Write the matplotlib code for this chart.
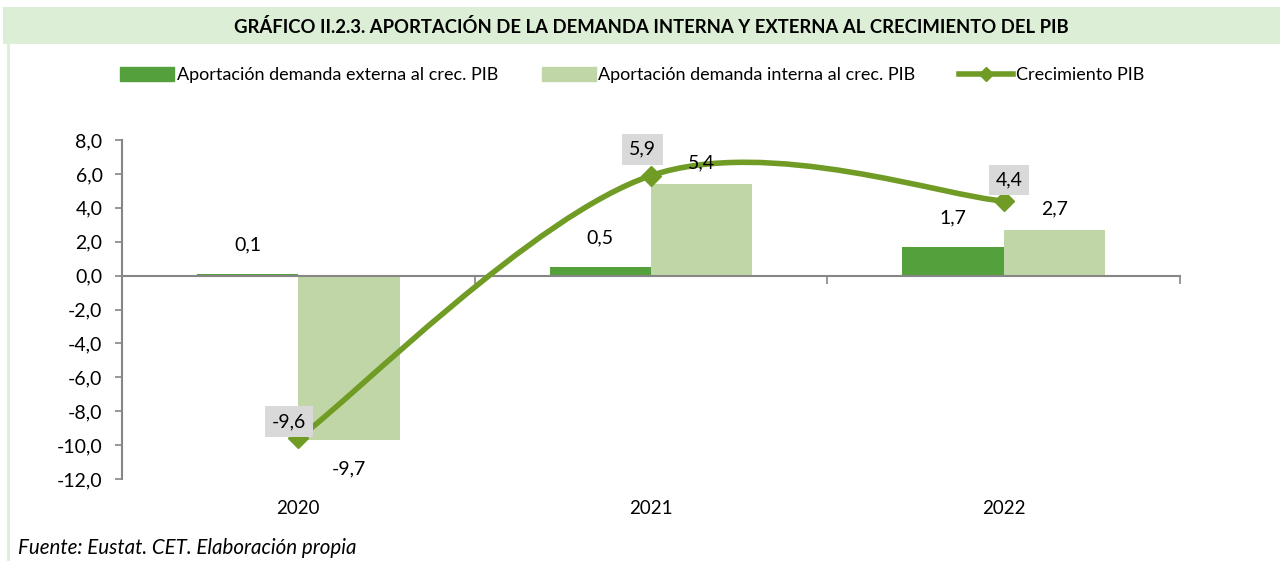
import matplotlib.pyplot as plt
from matplotlib.path import Path
from matplotlib.patches import PathPatch, Rectangle
from matplotlib.lines import Line2D
from matplotlib.ticker import FuncFormatter

years = ["2020", "2021", "2022"]
externa = [0.1, 0.5, 1.7]
interna = [-9.7, 5.4, 2.7]
pib = [-9.6, 5.9, 4.4]

DARK = "#54a03c"
LIGHT = "#c0d6a6"
LINE = "#709c26"
GRAY = "#868686"
BAND = "#dcefd6"

plt.rcParams["font.family"] = ["Lato", "DejaVu Sans"]

fig = plt.figure(figsize=(12.8, 5.61), dpi=100)
ax = fig.add_axes([122 / 1280, 1 - 479 / 561, (1180 - 122) / 1280, (479 - 140) / 561])

x = list(range(len(years)))
w = 0.287
ax.bar([i - w / 2 for i in x], externa, w, color=DARK, zorder=2)
ax.bar([i + w / 2 for i in x], interna, w, color=LIGHT, zorder=2)

# smoothed line (Excel style bezier through the points)
pts = list(zip(x, pib))
verts = [pts[0]]
codes = [Path.MOVETO]
for i in range(len(pts) - 1):
    p0 = pts[i - 1] if i > 0 else pts[i]
    p1, p2 = pts[i], pts[i + 1]
    p3 = pts[i + 2] if i + 2 < len(pts) else pts[i + 1]
    c1 = (p1[0] + (p2[0] - p0[0]) / 6, p1[1] + (p2[1] - p0[1]) / 6)
    c2 = (p2[0] - (p3[0] - p1[0]) / 6, p2[1] - (p3[1] - p1[1]) / 6)
    verts += [c1, c2, p2]
    codes += [Path.CURVE4] * 3
ax.add_patch(PathPatch(Path(verts, codes), fill=False, edgecolor=LINE, lw=4, zorder=3))
ax.plot(x, pib, ls="none", marker="D", ms=10, color=LINE, zorder=4)

# data labels
for i, v in enumerate(externa):
    ax.annotate(f"{v:.1f}".replace(".", ","), (i - w / 2, v), xytext=(0, 15),
                textcoords="offset points", ha="center", va="bottom", fontsize=14)
for i, v in enumerate(interna):
    off = (0, 9) if v > 0 else (0, -15)
    ax.annotate(f"{v:.1f}".replace(".", ","), (i + w / 2, v), xytext=off,
                textcoords="offset points", ha="center",
                va="bottom" if v > 0 else "top", fontsize=14)
pib_off = [(-7, 12), (-6, 19), (4, 15)]
for i, v in enumerate(pib):
    ax.annotate(f"{v:.1f}".replace(".", ","), (i, v), xytext=pib_off[i],
                textcoords="offset points", ha="center", va="center", fontsize=14,
                bbox=dict(boxstyle="square,pad=0.35", fc="#d9d9d9", ec="none"), zorder=5)

ax.set_xlim(-0.5, 2.5)
ax.set_ylim(-12, 8)
ax.set_yticks(range(-12, 9, 2))
ax.yaxis.set_major_formatter(FuncFormatter(lambda v, p: f"{v:.1f}".replace(".", ",")))
ax.tick_params(axis="y", labelsize=14, length=5, color=GRAY, width=1.2, pad=9)

for s in ["top", "right"]:
    ax.spines[s].set_visible(False)
ax.spines["left"].set_color(GRAY)
ax.spines["left"].set_linewidth(1.5)
ax.spines["bottom"].set_position(("data", 0))
ax.spines["bottom"].set_color(GRAY)
ax.spines["bottom"].set_linewidth(1.5)
ax.set_xticks([-0.5, 0.5, 1.5, 2.5])
ax.set_xticklabels([])
ax.tick_params(axis="x", length=6, color=GRAY, width=1.2)

sec = ax.secondary_xaxis("bottom")
sec.set_xticks(x)
sec.set_xticklabels(years)
sec.tick_params(length=0, labelsize=13.5, pad=15)
sec.spines["bottom"].set_visible(False)

# title band, border, legend, source
fig.patches.append(Rectangle((3 / 1280, 1 - 44 / 561), 1, 37 / 561, transform=fig.transFigure,
                             fc=BAND, ec="none", zorder=0))
fig.add_artist(Line2D([8 / 1280, 8 / 1280], [0, 1 - 44 / 561], transform=fig.transFigure,
                      color=BAND, lw=2))
fig.text(651 / 1280, 1 - 27 / 561,
         "GRÁFICO II.2.3. APORTACIÓN DE LA DEMANDA INTERNA Y EXTERNA AL CRECIMIENTO DEL PIB",
         ha="center", va="center", fontsize=13.3, fontweight="bold")

handles = [Rectangle((0, 0), 1, 1, color=DARK), Rectangle((0, 0), 1, 1, color=LIGHT),
           Line2D([], [], color=LINE, lw=4, marker="D", ms=7)]
labels = ["Aportación demanda externa al crec. PIB", "Aportación demanda interna al crec. PIB",
          "Crecimiento PIB"]
fig.legend(handles, labels, loc="center", bbox_to_anchor=(632 / 1280, 1 - 75 / 561), ncol=3,
           frameon=False, fontsize=13, handlelength=3.0, handleheight=0.8,
           handletextpad=0.15, columnspacing=2.4)

fig.text(18 / 1280, 1 - 548 / 561, "Fuente: Eustat. CET. Elaboración propia",
         ha="left", va="center", fontsize=14.8, style="italic")

fig.savefig("out.png", dpi=100)
